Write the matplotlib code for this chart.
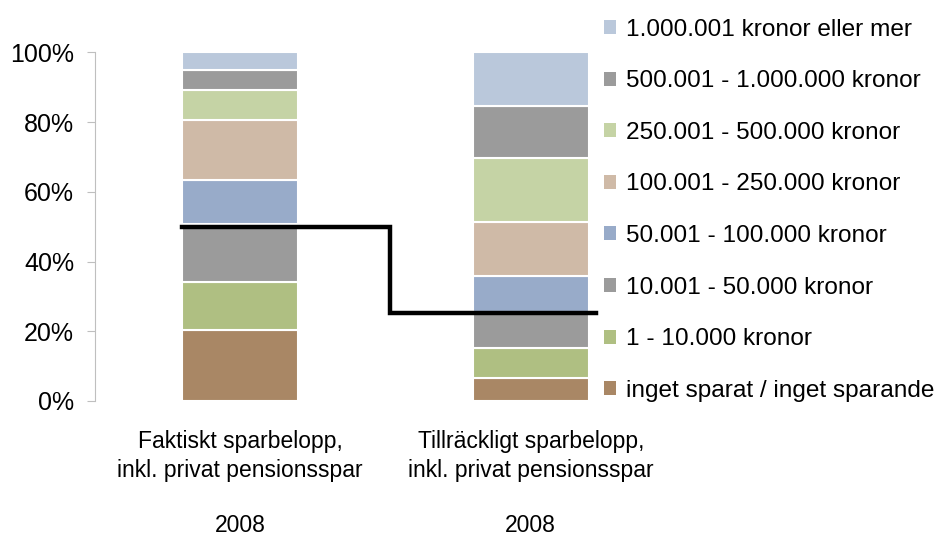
# sparbelopp_2008.py
# Faktiskt vs tillräckligt sparbelopp (2008), staplad andel per beloppsklass + medianlinje

import numpy as np
import matplotlib.pyplot as plt
from matplotlib.patches import Patch

plt.rcParams["font.family"] = ["Liberation Sans", "DejaVu Sans"]

# =============================
# DATA
# =============================
kategorier = ["Faktiskt sparbelopp,\ninkl. privat pensionsspar",
              "Tillräckligt sparbelopp,\ninkl. privat pensionsspar"]
ar = ["2008", "2008"]

klasser = ["inget sparat / inget sparande",
           "1 - 10.000 kronor",
           "10.001 - 50.000 kronor",
           "50.001 - 100.000 kronor",
           "100.001 - 250.000 kronor",
           "250.001 - 500.000 kronor",
           "500.001 - 1.000.000 kronor",
           "1.000.001 kronor eller mer"]

faktiskt = [20.4, 13.8, 16.6, 12.7, 17.2, 8.6, 5.7, 5.0]
tillrackligt = [6.6, 8.6, 10.4, 10.3, 15.4, 18.4, 14.9, 15.4]

median = [50.0, 25.3]

farger = ["#A98765", "#AFBF82", "#9B9B9B", "#98ABC9",
          "#CFBAA7", "#C5D3A5", "#9B9B9B", "#BAC8DB"]

# =============================
# FIGUR
# =============================
fig = plt.figure(figsize=(9.42, 5.36), dpi=100)
ax = fig.add_axes([0.1008, 0.2519, 0.6168, 0.6505])

pos = np.arange(len(kategorier))
bredd = 0.4
varden = np.array([faktiskt, tillrackligt])  # (kategori, klass)

bottom = np.zeros(len(kategorier))
for j, klass in enumerate(klasser):
    ax.bar(pos, varden[:, j], bredd, bottom=bottom, color=farger[j],
           edgecolor="white", linewidth=1.5, label=klass, zorder=2)
    bottom += varden[:, j]

# medianlinje (trappa mellan staplarna)
x_start = pos[0] - bredd / 2
x_mitt = (pos[0] + pos[1]) / 2 + 0.015
x_slut = pos[1] + bredd / 2 + 0.025
ax.plot([x_start, x_mitt, x_mitt, x_slut],
        [median[0], median[0], median[1], median[1]],
        color="black", linewidth=3.2, solid_joinstyle="miter", zorder=3)

ax.set_xlim(-0.5, 1.5)
ax.set_ylim(0, 100)
ax.set_yticks(np.arange(0, 101, 20))
ax.set_yticklabels([f"{v}%" for v in range(0, 101, 20)], fontsize=18)
ax.tick_params(axis="y", length=6, color="#BFBFBF", pad=9)

ax.set_xticks(pos)
ax.set_xticklabels(kategorier, fontsize=16.5, linespacing=1.3)
ax.tick_params(axis="x", length=0, pad=21)

for p, a in zip(pos, ar):
    ax.text(p, -0.39, a, transform=ax.get_xaxis_transform(),
            ha="center", va="bottom", fontsize=16.5)

for s in ["top", "right", "bottom"]:
    ax.spines[s].set_visible(False)
ax.spines["left"].set_color("#BFBFBF")

handles = [Patch(facecolor=farger[j], edgecolor="none") for j in range(len(klasser))]
fig.legend(handles[::-1], klasser[::-1], loc="upper left",
           bbox_to_anchor=(604 / 942, 0.965), frameon=False, fontsize=17.6,
           handlelength=0.5, handleheight=0.5, handletextpad=0.4,
           labelspacing=1.21, borderpad=0, borderaxespad=0)

fig.savefig("out.png", dpi=100)
